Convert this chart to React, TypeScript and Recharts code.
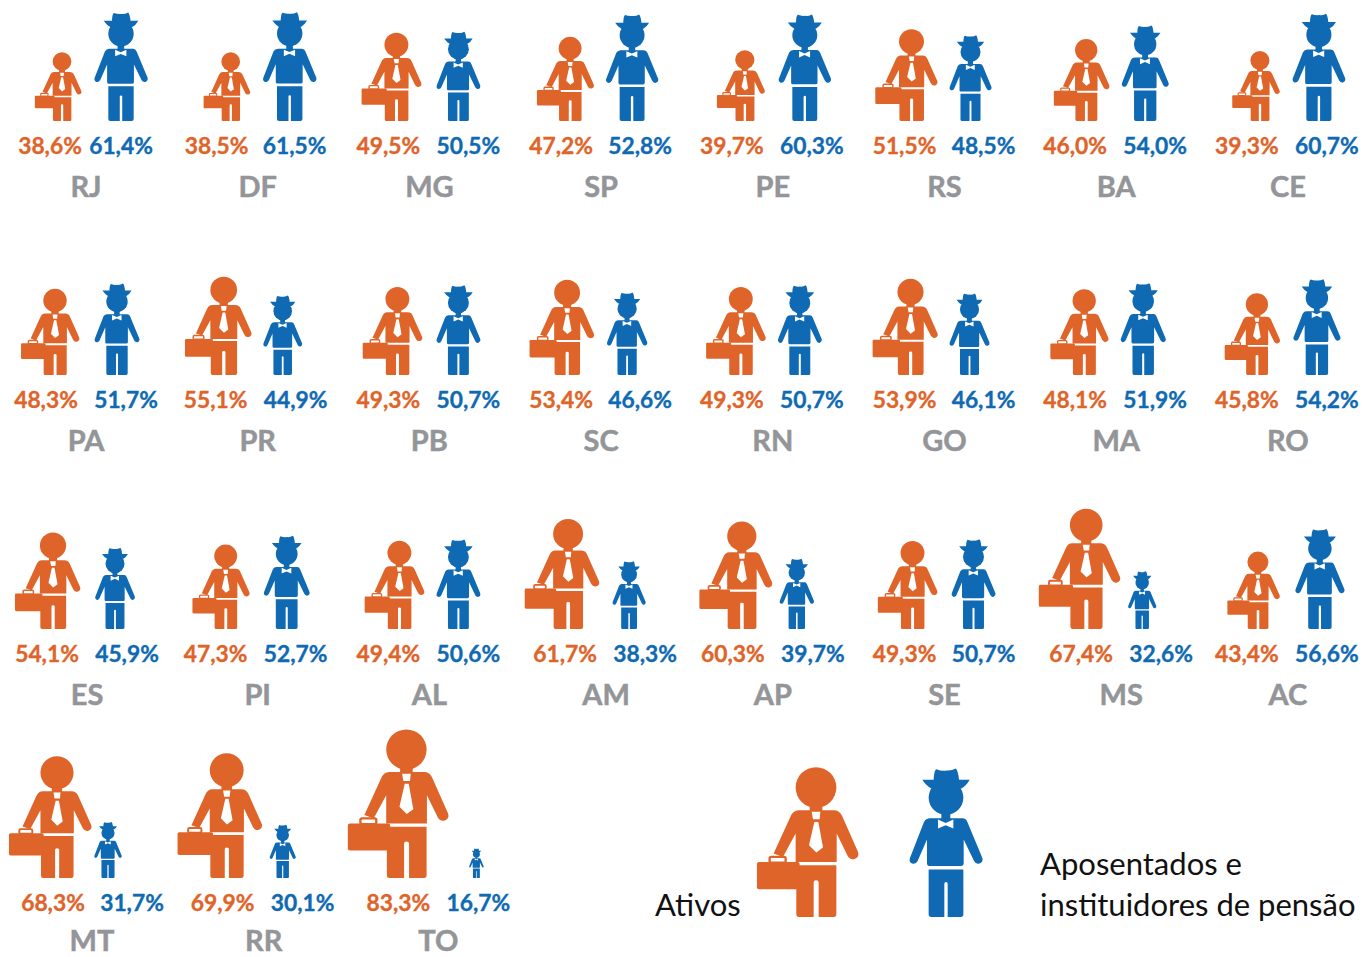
import React from "react";
import { ScatterChart, Scatter, XAxis, YAxis, ZAxis } from "recharts";

const states = ["RJ","DF","MG","SP","PE","RS","BA","CE","PA","PR","PB","SC","RN","GO","MA","RO","ES","PI","AL","AM","AP","SE","MS","AC","MT","RR","TO"];
const ativos = [38.6,38.5,49.5,47.2,39.7,51.5,46.0,39.3,48.3,55.1,49.3,53.4,49.3,53.9,48.1,45.8,54.1,47.3,49.4,61.7,60.3,49.3,67.4,43.4,68.3,69.9,83.3];
const aposentados = [61.4,61.5,50.5,52.8,60.3,48.5,54.0,60.7,51.7,44.9,50.7,46.6,50.7,46.1,51.9,54.2,45.9,52.7,50.6,38.3,39.7,50.7,32.6,56.6,31.7,30.1,16.7];
// The original draws the SP figure at about this size, larger than its printed 52,8%.
const drawnRetiredOverride: Record<string, number> = { SP: 60.2 };

// Layout only: grid and hand-placement nudges of the original infographic.
const COLUMN_ZERO = 86, COLUMN_PITCH = 171.7, PER_ROW = 8;
const rowBaselines = [121, 375, 629, 878];
const nameGaps = [76, 76, 76, 73];
const activeDx = [-24,-27,-33,-31,-28,-33,-30,-28,-31,-34,-32,-34,-32,-34,-32,-31,-33,-32,-30,-33,-31,-32,-30,-30,-29,-31,-23];
const retiredDx = [35,32,29,31,32,26,29,31,31,25,29,26,27,25,27,29,29,29,29,28,24,29,26,32,22,25,47];
const activeLabelDx = [-36,-41,-41,-40,-41,-40,-41,-41,-40,-42,-41,-40,-41,-40,-41,-41,-39,-42,-41,-36,-40,-40,-35,-41,-33,-35,-31];
const retiredLabelDx = [35,37,39,39,39,39,39,39,40,38,39,39,39,39,39,39,41,38,39,44,40,39,45,39,46,45,49];
const nameDx: Record<string, number> = { ES: 1, AM: 5, MS: 5, MT: 6, RR: 6, TO: 9 };

const ORANGE = "#DF6429";
const BLUE = "#0F6AB3";
const GRAY = "#939598";
const FONT = "Lato, sans-serif";

const center = (i: number) => COLUMN_ZERO + COLUMN_PITCH * (i % PER_ROW);
const rowOf = (i: number) => Math.floor(i / PER_ROW);
const base = (i: number) => rowBaselines[rowOf(i)];
const fmt = (v: number) => v.toFixed(1).replace(".", ",") + "%";

const activeFigures = ativos.map((v, i) => ({ x: center(i) + activeDx[i], y: base(i), v }));
const retiredFigures = aposentados.map((v, i) => ({ x: center(i) + retiredDx[i], y: base(i), v: drawnRetiredOverride[states[i]] ?? v }));
const activeLabels = ativos.map((v, i) => ({ x: center(i) + activeLabelDx[i], y: base(i) + 33, v, t: fmt(v) }));
const retiredLabels = aposentados.map((v, i) => ({ x: center(i) + retiredLabelDx[i], y: base(i) + 33, v, t: fmt(v) }));
const nameLabels = states.map((s, i) => ({ x: center(i) + (nameDx[s] ?? 0), y: base(i) + nameGaps[rowOf(i)], v: 0, t: s }));

const legendActive = [{ x: 816, y: 917, v: 84 }];
const legendRetired = [{ x: 946, y: 917, v: 84 }];
const legendTexts = [
  { x: 655, y: 916, v: 0, t: "Ativos" },
  { x: 1040, y: 875, v: 0, t: "Aposentados e" },
  { x: 1040, y: 916, v: 0, t: "instituidores de pensão" },
];

// Glyphs are drawn on a 448-unit-high canvas, origin at the feet centre.
const Active = (p: any) => {
  const k = p.size / 448;
  return (
    <g transform={`translate(${p.cx},${p.cy}) scale(${k})`}>
      <circle cx={0} cy={-388} r={61} fill={ORANGE} />
      <rect x={-19} y={-335} width={38} height={25} fill={ORANGE} />
      <path fill={ORANGE} d="M-52 -320 L53 -320 Q71 -320 78 -303 L126 -195 Q131 -180 116 -174 Q103 -170 95 -183 L62 -250 L62 -165 L-61 -165 L-61 -250 L-99 -180 L-127 -190 L-77 -300 Q-69 -320 -52 -320 Z" />
      <path fill="#fff" d="M-13 -315 L13 -315 L11 -293 L-9 -293 Z" />
      <path fill="#fff" d="M-5 -285 L7 -285 L21 -208 L1 -193 L-21 -215 Z" />
      <path fill={ORANGE} d="M-59 -155 L61 -155 L61 -8 Q61 0 53 0 L15 0 L8 0 L8 -104 Q8 -110 0 -110 Q-7 -110 -7 -104 L-7 0 L-51 0 Q-59 0 -59 -8 Z" />
      <rect x={-177} y={-165} width={128} height={82} rx={6} fill={ORANGE} />
      <rect x={-139} y={-180} width={48} height={17} rx={5} fill="#fff" stroke={ORANGE} strokeWidth={7} />
    </g>
  );
};

const Retired = (p: any) => {
  const k = p.size / 448;
  return (
    <g transform={`translate(${p.cx},${p.cy}) scale(${k})`}>
      <path fill={BLUE} d="M-29 -443 Q-14 -437 1 -439 Q16 -437 29 -445 Q36 -440 39 -411 L71 -411 Q61 -393 46 -385 L-44 -385 Q-59 -393 -71 -411 L-37 -411 Q-36 -440 -29 -443 Z" />
      <circle cx={0} cy={-358} r={52} fill={BLUE} />
      <rect x={-14} y={-315} width={27} height={22} fill={BLUE} />
      <path fill={BLUE} d="M-48 -296 L50 -296 Q60 -296 64 -285 L109 -177 Q112 -165 100 -160 Q90 -157 84 -168 L53 -232 L53 -160 Q53 -153 46 -153 L-51 -153 Q-57 -153 -57 -160 L-57 -232 L-85 -168 Q-91 -157 -101 -160 Q-112 -165 -108 -177 L-66 -285 Q-60 -296 -48 -296 Z" />
      <path fill="#fff" d="M-24 -292 L-1 -282 L22 -292 L22 -265 L-1 -275 L-24 -265 Z" />
      <path fill={BLUE} d="M-52 -142 L52 -142 L52 -8 Q52 0 44 0 L5 0 L5 -100 Q5 -105 0 -105 Q-5 -105 -5 -100 L-5 0 L-44 0 Q-52 0 -52 -8 Z" />
    </g>
  );
};

const textShape = (fill: string, fontSize: number, weight: number, anchor: string, bolden = 0) => (p: any) => (
  <text x={p.cx} y={p.cy} fill={fill} stroke={bolden ? fill : "none"} strokeWidth={bolden} fontSize={fontSize} fontWeight={weight} fontFamily={FONT} textAnchor={anchor}>
    {p.payload.t}
  </text>
);

export default function App() {
  return (
    <div style={{ position: "absolute", left: 0, top: 0, width: 1363, height: 957 }}>
      <ScatterChart width={1363} height={957} margin={{ top: 0, right: 0, bottom: 0, left: 0 }}>
        <XAxis type="number" dataKey="x" domain={[0, 1363]} hide />
        <YAxis type="number" dataKey="y" domain={[0, 957]} reversed hide />
        <ZAxis type="number" dataKey="v" domain={[0, 100]} range={[0, 178]} />
        <Scatter name="Ativos" data={activeFigures} shape={Active} isAnimationActive={false} />
        <Scatter name="Aposentados" data={retiredFigures} shape={Retired} isAnimationActive={false} />
        <Scatter data={activeLabels} shape={textShape(ORANGE, 22.8, 700, "middle", 0.35)} isAnimationActive={false} />
        <Scatter data={retiredLabels} shape={textShape(BLUE, 22.8, 700, "middle", 0.35)} isAnimationActive={false} />
        <Scatter data={nameLabels} shape={textShape(GRAY, 29, 700, "middle", 0.5)} isAnimationActive={false} />
        <Scatter data={legendActive} shape={Active} isAnimationActive={false} />
        <Scatter data={legendRetired} shape={Retired} isAnimationActive={false} />
        <Scatter data={legendTexts} shape={textShape("#111111", 31, 400, "start")} isAnimationActive={false} />
      </ScatterChart>
    </div>
  );
}
